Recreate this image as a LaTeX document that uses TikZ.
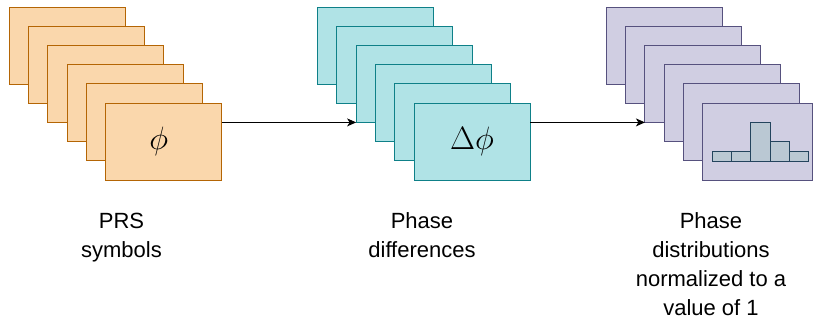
\documentclass[tikz,border=0pt]{standalone}
\usepackage{graphicx}
\usepackage{fontspec}
\setmainfont{Liberation Sans}
\usetikzlibrary{arrows.meta}
\definecolor{ofill}{HTML}{FAD7AC}\definecolor{odraw}{HTML}{B46504}
\definecolor{tfill}{HTML}{B0E3E6}\definecolor{tdraw}{HTML}{0E8088}
\definecolor{pfill}{HTML}{D0CEE2}\definecolor{pdraw}{HTML}{56517E}
\definecolor{hfill}{HTML}{BAC8D3}\definecolor{hdraw}{HTML}{23445D}
\begin{document}
\begin{tikzpicture}[x=1pt,y=-1pt,
  card/.style={draw, line width=1pt, minimum width=116pt, minimum height=77pt, anchor=north west, inner sep=0pt, outer sep=0pt},
  ocard/.style={card, fill=ofill, draw=odraw},
  tcard/.style={card, fill=tfill, draw=tdraw},
  pcard/.style={card, fill=pfill, draw=pdraw},
  bar/.style={draw=hdraw, fill=hfill, line width=1pt, minimum width=19.33pt, anchor=south west, inner sep=0pt, outer sep=0pt},
  arr/.style={line width=0.9pt, -{Stealth[length=9pt,width=8pt,inset=2.5pt]}},
  lbl/.style={align=center, anchor=base, inner sep=0pt, font=\fontsize{22}{28.7}\selectfont},
  sym/.style={font=\Huge, inner sep=0pt}]
\useasboundingbox (0,0) rectangle (813,330);
\foreach \i in {0,...,5} {
  \node[ocard] (o\i) at ({9+19.35*\i},{7+19.2*\i}) {};
}
\foreach \i in {0,...,5} {
  \node[tcard] (t\i) at ({317.5+19.3*\i},{7+19.2*\i}) {};
}
\foreach \i in {0,...,4} {
  \node[pcard] (p\i) at ({606.3+19.3*\i},{7+19.2*\i}) {};
}
\node[pcard, minimum width=110pt] (p5) at (702.8,103) {};
\node[sym] (phi) at ([xshift=-5pt]o5.center) {\scalebox{1.3}{$\phi$}};
\node[sym] (dphi) at (t5.center) {\scalebox{1.3}{$\Delta\phi$}};
\node[bar, minimum height=9.7pt] (h1) at (712,161) {};
\node[bar, minimum height=9.7pt] (h2) at (731.33,161) {};
\node[bar, minimum height=38.7pt] (h3) at (750.67,161) {};
\node[bar, minimum height=19.3pt] (h4) at (770,161) {};
\node[bar, minimum height=9.7pt] (h5) at (789.33,161) {};
\draw[arr] (o5.east |- t2.south west) -- (t2.south west);
\draw[arr] (t5.east |- p2.south west) -- (p2.south west);
\node[lbl] (l1) at (121.5,257) {PRS\\symbols};
\node[lbl] (l2) at (422,257) {Phase\\differences};
\node[lbl] (l3) at (711,315) {Phase\\distributions\\normalized to a\\value of 1};
\end{tikzpicture}
\end{document}
